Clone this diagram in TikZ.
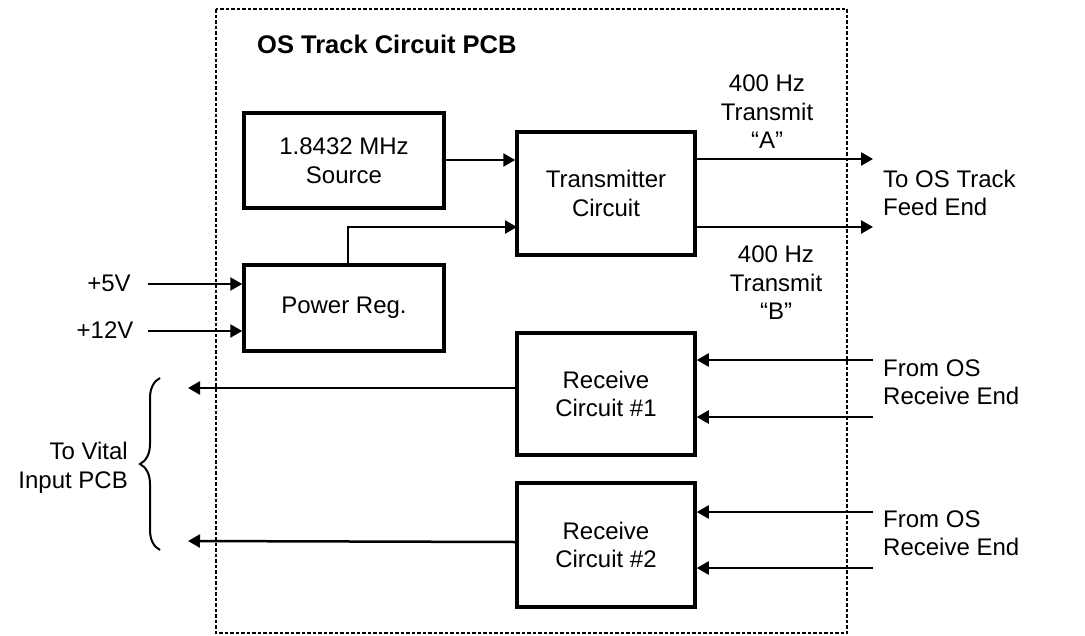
\documentclass[tikz,border=0pt]{standalone}
\usepackage{fontspec}
\setmainfont{Liberation Sans}
\usetikzlibrary{arrows.meta,decorations.pathreplacing}
\begin{document}
\begin{tikzpicture}[x=1pt,y=-1pt,
  txt/.style={font=\fontsize{24}{28.5}\selectfont, align=center, inner sep=0pt},
  block/.style={draw, line width=3.5pt, txt},
  conn/.style={line width=2.5pt, -{Triangle[length=12pt,width=13pt]}},
  pcb/.style={line width=1.6pt, dash pattern=on 3.5pt off 2pt}]
\useasboundingbox (0,0) rectangle (1085,635);
% board outline
\draw[pcb] (216,9) rectangle (847,633);
\node[txt, font=\fontsize{25.5}{30}\selectfont\bfseries, anchor=base west] (title) at (257,53) {OS Track Circuit PCB};
% blocks
\node[block, minimum width=200pt, minimum height=95pt] (src) at (344,160.5) {1.8432 MHz\\Source};
\node[block, minimum width=200pt, minimum height=86pt] (pw) at (344,308) {Power Reg.};
\node[block, minimum width=178pt, minimum height=123pt] (tx) at (606,193.5) {Transmitter\\Circuit};
\node[block, minimum width=178pt, minimum height=122pt] (r1) at (606,394) {Receive\\Circuit \#1};
\node[block, minimum width=178pt, minimum height=124pt] (r2) at (606,545) {Receive\\Circuit \#2};
% labels
\node[txt] (la) at (767,112) {400 Hz\\Transmit\\“A”};
\node[txt] (lb) at (776,283) {400 Hz\\Transmit\\“B”};
\node[txt, anchor=west, align=left] (feed) at (883,193) {To OS Track\\Feed End};
\node[txt, anchor=west, align=left] (rx1) at (883,382) {From OS\\Receive End};
\node[txt, anchor=west, align=left] (rx2) at (883,533) {From OS\\Receive End};
\node[txt] (v5) at (109,283) {+5V};
\node[txt] (v12) at (105,330) {+12V};
\node[txt, anchor=east, align=right] (vital) at (128,468) {To Vital\\Input PCB};
% free ends
\coordinate (v5e) at (148,284);
\coordinate (v12e) at (148,331);
\coordinate (oa) at (873,159);
\coordinate (ob) at (873,227);
\coordinate (i1a) at (873,360);
\coordinate (i1b) at (873,417);
\coordinate (i2a) at (873,512);
\coordinate (i2b) at (873,568);
\coordinate (o1) at (188,388);
\coordinate (o2) at (188,541);
\coordinate (txp) at (517,227);
% connectors
\draw[conn] (src.east |- 0,160) -- (tx.west |- 0,160);
\draw[conn] ([xshift=4pt]pw.north) |- (txp);
\draw[conn] (v5e) -- (pw.west |- v5e);
\draw[conn] (v12e) -- (pw.west |- v12e);
\draw[conn] (tx.east |- oa) -- (oa);
\draw[conn] (tx.east |- ob) -- (ob);
\draw[conn] (i1a) -- (r1.east |- i1a);
\draw[conn] (i1b) -- (r1.east |- i1b);
\draw[conn] (i2a) -- (r2.east |- i2a);
\draw[conn] (i2b) -- (r2.east |- i2b);
\draw[conn] (r1.west |- o1) -- (o1);
\draw[conn] (r2.west |- 0,542) -- (o2);
% brace
\draw[line width=2pt, decorate, decoration={brace, amplitude=20pt}] (160,550) -- (160,378);
\end{tikzpicture}
\end{document}
